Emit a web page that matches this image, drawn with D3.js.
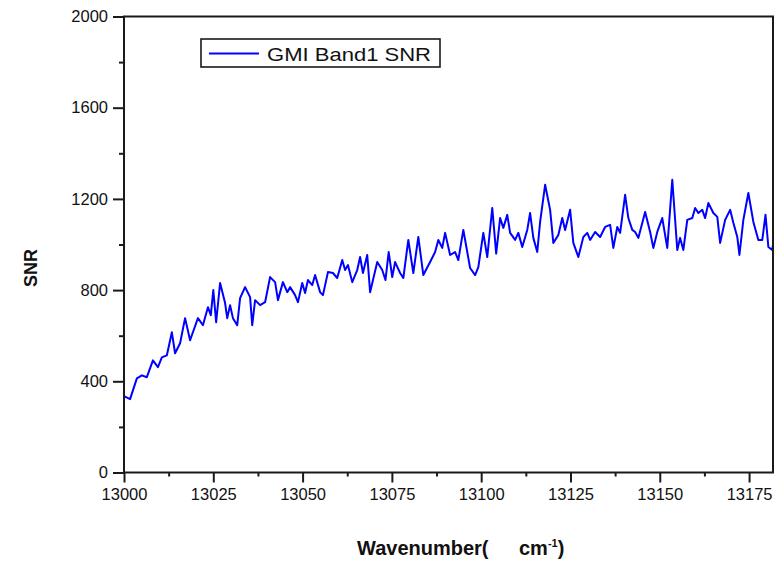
<!DOCTYPE html>
<html>
<head>
<meta charset="utf-8">
<script src="https://cdn.jsdelivr.net/npm/d3@7/dist/d3.min.js"></script>
<style>
  html, body { margin: 0; padding: 0; background: #fff; }
  svg { display: block; font-family: "Liberation Sans", Arial, sans-serif; }
</style>
</head>
<body>
<svg id="chart" width="782" height="564"></svg>
<script>
// Spectral SNR of GMI band 1
const wavenumber = [
  13000.0, 13001.7, 13003.6, 13005.0, 13006.4, 13008.1, 13009.5, 13010.6, 13012.0, 13013.4,
  13014.3, 13015.7, 13017.1, 13018.5, 13020.7, 13022.1, 13023.5, 13024.3, 13025.0, 13025.8,
  13026.9, 13028.3, 13028.9, 13029.7, 13030.5, 13031.7, 13032.5, 13033.9, 13035.3, 13035.9,
  13036.7, 13038.1, 13039.5, 13040.9, 13042.3, 13043.1, 13044.5, 13045.7, 13046.5, 13047.9,
  13048.7, 13049.9, 13050.7, 13051.5, 13052.7, 13053.5, 13054.9, 13055.7, 13057.1, 13058.5,
  13059.7, 13061.1, 13061.9, 13062.7, 13063.9, 13065.3, 13066.1, 13066.9, 13068.1, 13068.9,
  13070.9, 13072.3, 13073.2, 13074.1, 13075.1, 13075.9, 13077.3, 13078.2, 13079.6, 13081.0,
  13082.4, 13083.8, 13085.7, 13087.1, 13088.0, 13089.1, 13089.9, 13091.3, 13092.7, 13093.6,
  13095.0, 13096.1, 13096.9, 13098.3, 13099.2, 13100.6, 13101.7, 13103.1, 13104.2, 13105.3,
  13106.2, 13107.3, 13108.1, 13109.5, 13110.4, 13111.5, 13112.9, 13113.7, 13114.6, 13115.7,
  13116.5, 13117.9, 13119.3, 13120.2, 13121.6, 13122.7, 13123.5, 13124.9, 13125.8, 13127.2,
  13128.6, 13129.7, 13130.5, 13131.9, 13133.3, 13134.7, 13136.1, 13137.0, 13138.1, 13138.9,
  13140.3, 13141.2, 13142.3, 13143.1, 13144.0, 13145.9, 13147.3, 13148.2, 13149.3, 13150.7,
  13152.1, 13153.5, 13154.9, 13155.7, 13156.6, 13157.7, 13159.1, 13159.9, 13160.8, 13161.9,
  13162.7, 13163.6, 13165.0, 13166.1, 13166.9, 13168.3, 13169.7, 13170.6, 13171.7, 13172.3,
  13173.4, 13174.8, 13176.2, 13177.6, 13178.7, 13179.6, 13180.4, 13181.5, 13181.7
];
const snr = [
  335, 322, 413, 426, 418, 492, 462, 505, 514, 615,
  523, 567, 677, 580, 677, 646, 725, 690, 800, 659,
  831, 743, 677, 734, 677, 646, 765, 813, 769, 646,
  756, 734, 747, 857, 835, 756, 835, 791, 813, 778,
  747, 831, 787, 844, 822, 866, 791, 778, 879, 875,
  853, 932, 888, 910, 835, 888, 945, 875, 954, 791,
  923, 888, 844, 967, 857, 923, 875, 853, 1020, 875,
  1033, 866, 923, 967, 1020, 985, 1051, 954, 967, 932,
  1064, 967, 897, 866, 901, 1051, 945, 1160, 960, 1116,
  1073, 1130, 1051, 1020, 1051, 989, 1064, 1138, 1029, 967,
  1099, 1262, 1152, 1007, 1042, 1116, 1064, 1152, 1007, 945,
  1033, 1051, 1020, 1055, 1033, 1077, 1086, 985, 1077, 1051,
  1218, 1116, 1064, 1055, 1029, 1143, 1055, 985, 1055, 1116,
  985, 1284, 976, 1029, 976, 1108, 1116, 1160, 1138, 1152,
  1116, 1182, 1138, 1121, 1007, 1108, 1152, 1095, 1033, 954,
  1108, 1226, 1099, 1020, 1020, 1130, 989, 976, 1000
];
const xTicks = [13000, 13025, 13050, 13075, 13100, 13125, 13150, 13175];
const yTicks = [0, 400, 800, 1200, 1600, 2000];
const seriesName = "GMI Band1 SNR";

const svg = d3.select("#chart");
const plot = { left: 124, right: 773, top: 16.5, bottom: 472.5 };

const x = d3.scaleLinear().domain([13000, 13181.7]).range([plot.left, plot.right]);
const y = d3.scaleLinear().domain([0, 2000]).range([plot.bottom, plot.top]);

const axisColor = "#1a1a1a";

// minor ticks (halfway between labelled ticks)
const xMinor = d3.range(13012.5, 13181, 25);
const yMinor = d3.range(200, 2000, 400);

svg.append("g")
  .attr("transform", `translate(0,${plot.bottom})`)
  .call(d3.axisBottom(x).tickValues(xMinor).tickSize(4).tickFormat(""))
  .call(g => g.select(".domain").remove())
  .call(g => g.selectAll("line").attr("stroke", axisColor).attr("stroke-width", 2));

svg.append("g")
  .attr("transform", `translate(${plot.left},0)`)
  .call(d3.axisLeft(y).tickValues(yMinor).tickSize(5).tickFormat(""))
  .call(g => g.select(".domain").remove())
  .call(g => g.selectAll("line").attr("stroke", axisColor).attr("stroke-width", 2));

// major ticks with labels
svg.append("g")
  .attr("transform", `translate(0,${plot.bottom})`)
  .call(d3.axisBottom(x).tickValues(xTicks).tickSize(10).tickPadding(6).tickFormat(d3.format("d")))
  .call(g => g.select(".domain").remove())
  .call(g => g.selectAll("line").attr("stroke", axisColor).attr("stroke-width", 2))
  .call(g => g.selectAll("text")
    .attr("fill", "#111").attr("font-size", 16.5)
    .attr("font-family", "'Liberation Sans', Arial, sans-serif"));

svg.append("g")
  .attr("transform", `translate(${plot.left},0)`)
  .call(d3.axisLeft(y).tickValues(yTicks).tickSize(11).tickPadding(5).tickFormat(d3.format("d")))
  .call(g => g.select(".domain").remove())
  .call(g => g.selectAll("line").attr("stroke", axisColor).attr("stroke-width", 2))
  .call(g => g.selectAll("text")
    .attr("fill", "#111").attr("font-size", 16.5)
    .attr("font-family", "'Liberation Sans', Arial, sans-serif"));

// clip for the data line
svg.append("clipPath").attr("id", "plot-clip")
  .append("rect")
  .attr("x", plot.left).attr("y", plot.top)
  .attr("width", plot.right - plot.left).attr("height", plot.bottom - plot.top);

const points = wavenumber.map((w, i) => [w, snr[i]]);
const line = d3.line().x(d => x(d[0])).y(d => y(d[1]));

svg.append("path")
  .datum(points)
  .attr("clip-path", "url(#plot-clip)")
  .attr("fill", "none")
  .attr("stroke", "#0000ff")
  .attr("stroke-width", 2)
  .attr("stroke-linejoin", "round")
  .attr("d", line);

// frame
svg.append("rect")
  .attr("x", plot.left).attr("y", plot.top)
  .attr("width", plot.right - plot.left).attr("height", plot.bottom - plot.top)
  .attr("fill", "none").attr("stroke", axisColor).attr("stroke-width", 2);

// legend
const lg = svg.append("g");
lg.append("rect")
  .attr("x", 201).attr("y", 39).attr("width", 239).attr("height", 28)
  .attr("fill", "#fff").attr("stroke", axisColor).attr("stroke-width", 1.6);
lg.append("line")
  .attr("x1", 209).attr("x2", 259).attr("y1", 53.5).attr("y2", 53.5)
  .attr("stroke", "#0000ff").attr("stroke-width", 2);
lg.append("text")
  .attr("x", 267).attr("y", 60.5)
  .attr("font-size", 19).attr("fill", "#111")
  .attr("textLength", 164).attr("lengthAdjust", "spacingAndGlyphs")
  .text(seriesName);

// axis titles
svg.append("text")
  .attr("transform", "translate(37,268) rotate(-90)")
  .attr("text-anchor", "middle")
  .attr("font-size", 18).attr("font-weight", "bold").attr("fill", "#111")
  .text("SNR");

const xt = svg.append("text")
  .attr("x", 357).attr("y", 555)
  .attr("font-size", 20).attr("font-weight", "bold").attr("fill", "#111");
xt.append("tspan").text("Wavenumber(");
xt.append("tspan").attr("x", 519).text("cm");
xt.append("tspan").attr("dy", -8).attr("font-size", 11).text("-1");
xt.append("tspan").attr("dy", 8).text(")");
</script>
</body>
</html>
